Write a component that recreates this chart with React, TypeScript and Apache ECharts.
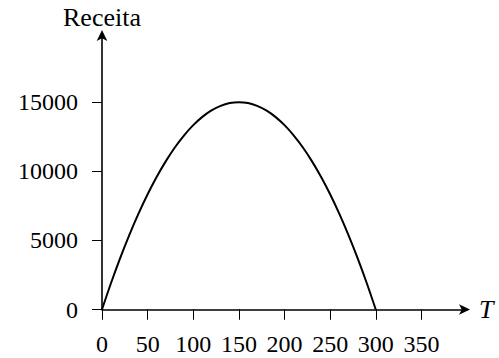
import React, { useEffect, useRef } from "react";
import * as echarts from "echarts";

const tValues = [0, 10, 20, 30, 40, 50, 60, 70, 80, 90, 100, 110, 120, 130, 140, 150, 160, 170, 180, 190, 200, 210, 220, 230, 240, 250, 260, 270, 280, 290, 300];
const receita = [0, 1933, 3733, 5400, 6933, 8333, 9600, 10733, 11733, 12600, 13333, 13933, 14400, 14733, 14933, 15000, 14933, 14733, 14400, 13933, 13333, 12600, 11733, 10733, 9600, 8333, 6933, 5400, 3733, 1933, 0];
const xTicks = [0, 50, 100, 150, 200, 250, 300, 350];
const yTicks = [0, 5000, 10000, 15000];

const FONT = "Liberation Serif";

export default function App() {
  const ref = useRef<HTMLDivElement>(null);
  useEffect(() => {
    document.body.style.margin = "0";
    const chart = echarts.init(ref.current!, null, { renderer: "svg" });
    const axisCommon = {
      axisLine: {
        show: true,
        lineStyle: { color: "#000", width: 1.6 },
        symbol: ["none", "arrow"],
        symbolSize: [8, 11],
        symbolOffset: [0, 3],
      },
      splitLine: { show: false },
    };
    const insideCommon = {
      axisLine: { show: false },
      axisLabel: { show: false },
      splitLine: { show: false },
    };
    const fmt = (v: number) => String(v);
    chart.setOption({
      animation: false,
      backgroundColor: "#fff",
      grid: { left: 102, top: 33, width: 365, height: 276.5 },
      xAxis: [
        {
          type: "value",
          min: 0,
          max: 400,
          interval: 50,
          ...axisCommon,
          name: "T",
          nameLocation: "end",
          nameGap: 12,
          nameTextStyle: { fontFamily: FONT, fontSize: 26, fontStyle: "italic", color: "#000" },
          axisTick: { show: true, inside: false, length: 10, customValues: xTicks, lineStyle: { color: "#000", width: 1 } },
          axisLabel: { fontFamily: FONT, fontSize: 24, color: "#000", margin: 22, customValues: xTicks, formatter: fmt },
        },
        {
          type: "value",
          min: 0,
          max: 400,
          interval: 50,
          ...insideCommon,
          axisTick: { show: true, inside: true, length: 10, customValues: xTicks, lineStyle: { color: "#000", width: 1 } },
        },
      ],
      yAxis: [
        {
          type: "value",
          min: 0,
          max: 20000,
          interval: 5000,
          ...axisCommon,
          name: "Receita",
          nameLocation: "end",
          nameGap: 3,
          nameTextStyle: { fontFamily: FONT, fontSize: 26, color: "#000", align: "center", verticalAlign: "bottom" },
          axisTick: { show: true, inside: false, length: 10, customValues: yTicks, lineStyle: { color: "#000", width: 1 } },
          axisLabel: { fontFamily: FONT, fontSize: 24, color: "#000", margin: 24, customValues: yTicks, formatter: fmt },
        },
        {
          type: "value",
          min: 0,
          max: 20000,
          interval: 5000,
          ...insideCommon,
          axisTick: { show: true, inside: true, length: 10, customValues: yTicks, lineStyle: { color: "#000", width: 1 } },
        },
      ],
      series: [
        {
          type: "line",
          data: tValues.map((t, i) => [t, receita[i]]),
          smooth: 0.3,
          showSymbol: false,
          lineStyle: { color: "#000", width: 2 },
          z: 5,
        },
      ],
    });
    return () => chart.dispose();
  }, []);
  return <div ref={ref} style={{ width: 499, height: 358 }} />;
}
